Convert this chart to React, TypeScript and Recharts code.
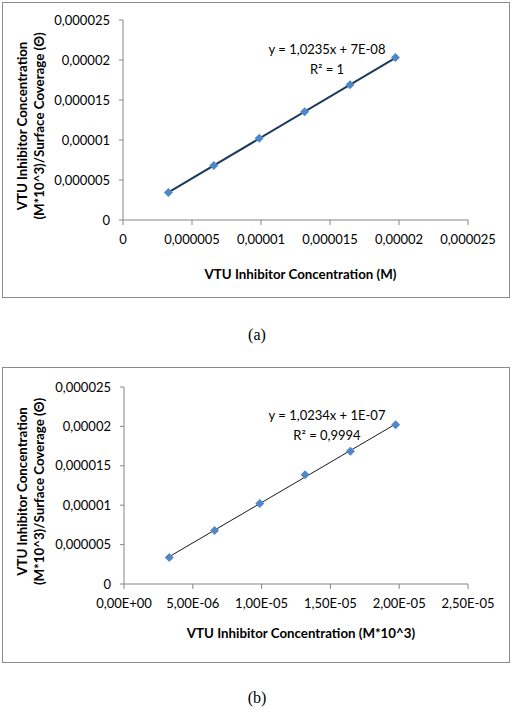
import React from 'react';
import { ComposedChart, Scatter, Line, XAxis, YAxis } from 'recharts';

// values
const concentration = [3.29e-6, 6.58e-6, 9.87e-6, 1.316e-5, 1.645e-5, 1.974e-5];
const coverageA = [3.45e-6, 6.8e-6, 1.021e-5, 1.354e-5, 1.69e-5, 2.03e-5];
const coverageB = [3.35e-6, 6.78e-6, 1.02e-5, 1.385e-5, 1.685e-5, 2.02e-5];

// trendline end points
const trendX = [3.29e-6, 1.974e-5];
const trendA = [3.44e-6, 2.027e-5];
const trendB = [3.47e-6, 2.03e-5];

const axisTicks = [0, 5e-6, 1e-5, 1.5e-5, 2e-5, 2.5e-5];
const decimalLabels = ['0', '0,000005', '0,00001', '0,000015', '0,00002', '0,000025'];
const sciLabels = ['0,00E+00', '5,00E-06', '1,00E-05', '1,50E-05', '2,00E-05', '2,50E-05'];

const yTitle = ['VTU Inhibitor Concentration', '(M*10^3)/Surface Coverage (Θ)'];

const toPoints = (xs: number[], ys: number[]) => xs.map((x, i) => ({ x, y: ys[i] }));

const Diamond = (props: any) => {
    const { cx, cy } = props;
    if (cx == null || cy == null) return null;
    const r = 4.5;
    return (
        <polygon
            points={`${cx},${cy - r} ${cx + r},${cy} ${cx},${cy + r} ${cx - r},${cy}`}
            fill="#4F88C9"
        />
    );
};

const YTitle = (props: any) => {
    const vb = props.viewBox || {};
    const cy = vb.y + vb.height / 2 + 6;
    const xs = [vb.x + 22, vb.x + 38.5];
    return (
        <g>
            {yTitle.map((t, i) => (
                <text
                    key={i}
                    x={xs[i]}
                    y={cy}
                    transform={`rotate(-90, ${xs[i]}, ${cy})`}
                    textAnchor="middle"
                    dominantBaseline="central"
                    fontSize={13.3}
                    fontWeight="bold"
                    fill="#000"
                >
                    {t}
                </text>
            ))}
        </g>
    );
};

interface PanelProps {
    top: number;
    ys: number[];
    trend: number[];
    xLabels: string[];
    xTitle: string;
    lineColor: string;
    lineWidth: number;
    margin: { top: number; right: number; left: number; bottom: number };
    yWidth: number;
    xHeight: number;
    boxTop: number;
    boxHeight: number;
    eq: string[];
    eqTop: number;
    caption: string;
    captionTop: number;
}

const Panel: React.FC<PanelProps> = (p) => {
    const points = toPoints(concentration, p.ys);
    const line = toPoints(trendX, p.trend);
    return (
        <>
            <div
                style={{
                    position: 'absolute',
                    left: 2,
                    top: p.boxTop,
                    width: 506,
                    height: p.boxHeight,
                    border: '1px solid #8a8a8a',
                }}
            />
            <div style={{ position: 'absolute', left: 0, top: p.top }}>
                <ComposedChart width={516} height={300} margin={p.margin}>
                    <XAxis
                        type="number"
                        dataKey="x"
                        domain={[0, 2.5e-5]}
                        ticks={axisTicks}
                        interval={0}
                        tickFormatter={(v: number, i: number) => p.xLabels[i]}
                        stroke="#868686"
                        tickSize={5}
                        tickMargin={10}
                        tick={{ fill: '#000', fontSize: 13 }}
                        height={p.xHeight}
                        label={{
                            value: p.xTitle,
                            position: 'insideBottom',
                            offset: 0,
                            fontSize: 13.3,
                            fontWeight: 'bold',
                            fill: '#000',
                            dx: 5,
                        }}
                    />
                    <YAxis
                        type="number"
                        dataKey="y"
                        domain={[0, 2.5e-5]}
                        ticks={axisTicks}
                        interval={0}
                        tickFormatter={(v: number, i: number) => decimalLabels[i]}
                        stroke="#868686"
                        tickSize={4}
                        tickMargin={9}
                        tick={{ fill: '#000', fontSize: 13 }}
                        width={p.yWidth}
                        label={<YTitle />}
                    />
                    <Line
                        data={line}
                        dataKey="y"
                        stroke={p.lineColor}
                        strokeWidth={p.lineWidth}
                        dot={false}
                        activeDot={false}
                        isAnimationActive={false}
                    />
                    <Scatter data={points} dataKey="y" shape={<Diamond />} isAnimationActive={false} />
                </ComposedChart>
            </div>
            {p.eq.map((t, i) => (
                <div
                    key={i}
                    style={{
                        position: 'absolute',
                        left: 227,
                        width: 200,
                        top: p.eqTop + i * 20,
                        height: 20,
                        lineHeight: '20px',
                        textAlign: 'center',
                        fontSize: 13,
                        color: '#000',
                    }}
                >
                    {t}
                </div>
            ))}
            <div
                style={{
                    position: 'absolute',
                    left: 0,
                    width: 514,
                    top: p.captionTop,
                    height: 20,
                    lineHeight: '20px',
                    textAlign: 'center',
                    fontFamily: '"Liberation Serif", serif',
                    fontSize: 16,
                    color: '#000',
                }}
            >
                {p.caption}
            </div>
        </>
    );
};

export default function App() {
    return (
        <div
            style={{
                position: 'absolute',
                left: 0,
                top: 0,
                width: 516,
                height: 715,
                background: '#fff',
                fontFamily: 'Lato, sans-serif',
            }}
        >
            <Panel
                top={0}
                ys={coverageA}
                trend={trendA}
                xLabels={decimalLabels}
                xTitle="VTU Inhibitor Concentration (M)"
                lineColor="#1D3A5C"
                lineWidth={2}
                margin={{ top: 20, right: 48, left: 0, bottom: 21 }}
                yWidth={123}
                xHeight={59}
                boxTop={2}
                boxHeight={294}
                eq={['y = 1,0235x + 7E-08', 'R² = 1']}
                eqTop={39}
                caption="(a)"
                captionTop={325}
            />
            <Panel
                top={360}
                ys={coverageB}
                trend={trendB}
                xLabels={sciLabels}
                xTitle="VTU Inhibitor Concentration (M*10^3)"
                lineColor="#1a1a1a"
                lineWidth={1}
                margin={{ top: 27, right: 48, left: 0, bottom: 22 }}
                yWidth={124}
                xHeight={54}
                boxTop={367}
                boxHeight={294}
                eq={['y = 1,0234x + 1E-07', 'R² = 0,9994']}
                eqTop={405}
                caption="(b)"
                captionTop={688}
            />
        </div>
    );
}
